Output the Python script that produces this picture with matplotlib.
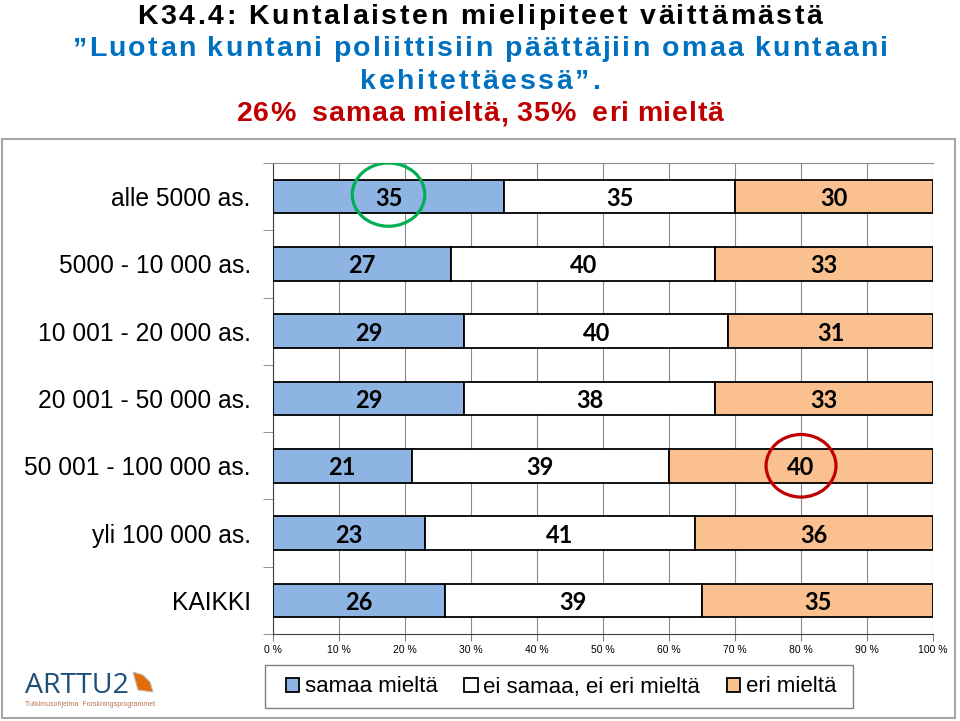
import numpy as np
import matplotlib
matplotlib.use("Agg")
import matplotlib.pyplot as plt
from matplotlib.patches import Ellipse, Rectangle, Polygon

plt.rcParams['font.family'] = ['Liberation Sans', 'DejaVu Sans']

categories = ["alle 5000 as.", "5000 - 10 000 as.", "10 001 - 20 000 as.",
              "20 001 - 50 000 as.", "50 001 - 100 000 as.", "yli 100 000 as.",
              "KAIKKI"]
samaa = [35, 27, 29, 29, 21, 23, 26]
neutral = [35, 40, 40, 38, 39, 41, 39]
eri = [30, 33, 31, 33, 40, 36, 35]
series_names = ["samaa mieltä", "ei samaa, ei eri mieltä", "eri mieltä"]
colors = ["#8EB4E3", "#FFFFFF", "#FAC090"]
xticks = list(range(0, 101, 10))

title_lines = ["K34.4: Kuntalaisten mielipiteet väittämästä",
               "\u201dLuotan kuntani poliittisiin päättäjiin omaa kuntaani",
               "kehitettäessä\u201d.",
               "26%  samaa mieltä, 35%  eri mieltä"]
title_colors = ["black", "#0070C0", "#0070C0", "#C00000"]
title_widths = [685, 815, 240, 487]      # target width in px
title_baselines = [24, 56, 89, 121]      # baseline y in px from top

W, H = 960, 721
fig = plt.figure(figsize=(W / 100, H / 100), dpi=100)
renderer = fig.canvas.get_renderer()
title_font = dict(fontsize=20.5, fontweight="bold", family="Liberation Sans")


def tracked_text(s, color, width, base):
    """Draw a letter-spaced line centred in the figure."""
    widths = []
    for ch in s:
        if ch == " ":
            widths.append(None)
            continue
        t = fig.text(0, 0, ch, **title_font)
        widths.append(t.get_window_extent(renderer).width)
        t.remove()
    sp = 0.25 * title_font["fontsize"] * 100 / 72
    widths = [sp if w is None else w for w in widths]
    track = (width - sum(widths)) / (len(s) - 1)
    x = (W - width) / 2
    for ch, w in zip(s, widths):
        if ch != " ":
            fig.text(x / W, 1 - base / H, ch, ha="left", va="baseline",
                     color=color, **title_font)
        x += w + track


for s, c, w, b in zip(title_lines, title_colors, title_widths, title_baselines):
    tracked_text(s, c, w, b)

# outer chart border
fig.patches.append(Rectangle((0.002, 0.004), 0.993, 0.803, transform=fig.transFigure,
                             fill=False, edgecolor="#a6a6a6", lw=1.5))

ax = fig.add_axes([0.2844, 0.1207, 0.6875, 0.6532])
y = np.arange(len(categories))
data = [samaa, neutral, eri]
left = np.zeros(len(categories))
for vals, col, name in zip(data, colors, series_names):
    vals = np.array(vals)
    ax.barh(y, vals, left=left, height=0.5, color=col, edgecolor="black",
            linewidth=1.3, label=name, zorder=3)
    for yi, l, v in zip(y, left, vals):
        ax.text(l + v / 2, yi + 0.03, str(v), ha="center", va="center",
                fontsize=17, fontweight="bold", family="Lato", zorder=4)
    left += vals

ax.set_xlim(0, 100)
ax.set_ylim(len(categories) - 0.5, -0.5)
ax.set_xticks(xticks)
ax.set_xticklabels([f"{t} %" for t in xticks], fontsize=7.5)
ax.set_yticks(y)
ax.set_yticklabels(categories, fontsize=17.7)
ax.set_yticks(np.arange(-0.5, len(categories), 1), minor=True)
ax.tick_params(axis="y", which="major", length=0, pad=16)
ax.tick_params(axis="y", which="minor", length=7, color="#808080")
ax.tick_params(axis="x", length=5, color="#808080", pad=3)
ax.grid(axis="x", color="#8c8c8c", lw=0.8, zorder=0)
ax.spines["right"].set_visible(False)
ax.spines["top"].set_color("#8c8c8c")
ax.spines["top"].set_linewidth(0.8)
ax.spines["left"].set_color("#404040")
ax.spines["bottom"].set_color("#404040")

# highlight circles
ax.add_patch(Ellipse((samaa[0] / 2, -0.03), 11, 0.94, fill=False,
                     edgecolor="#00B050", lw=2.3, zorder=5))
ax.add_patch(Ellipse((samaa[4] + neutral[4] + eri[4] / 2, 4), 10.6, 0.93, fill=False,
                     edgecolor="#C00000", lw=2.3, zorder=5))

# legend with its own frame
fig.patches.append(Rectangle((265 / W, 1 - 708 / H), 588 / W, 43 / H,
                             transform=fig.transFigure, facecolor="white",
                             edgecolor="#808080", lw=1.0))
handles, labels = ax.get_legend_handles_labels()
leg = fig.legend(handles, labels, loc="center", bbox_to_anchor=(561 / W, 1 - 687 / H),
                 ncol=3, fontsize=16, frameon=False,
                 handlelength=0.6, handleheight=0.6, handletextpad=0.25,
                 columnspacing=1.2)

# logo
fig.text(25 / W, 1 - 693 / H, "ARTTU2", fontsize=20.5, color="#1F4E79", ha="left",
         va="baseline", family="Open Sans")
fig.text(25 / W, 1 - 705 / H, "Tutkimusohjelma  Forskningsprogrammet", fontsize=5,
         color="#B9744A", ha="left", va="center")
sail = [(133, 672), (143, 675), (150, 682), (153, 692), (138, 690)]
fig.patches.append(Polygon([(px / W, 1 - py / H) for px, py in sail],
                           closed=True, transform=fig.transFigure,
                           facecolor="#E46C0A", edgecolor="#BFBFBF", lw=0.8))

fig.savefig("out.png", dpi=100)
